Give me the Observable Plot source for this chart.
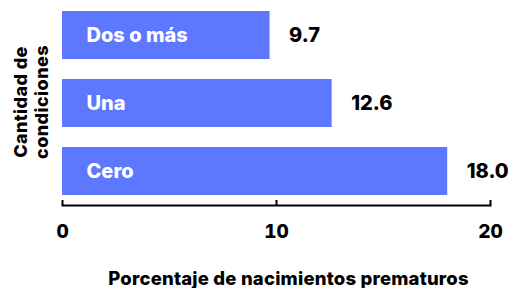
<!DOCTYPE html>
<html>
<head>
<meta charset="utf-8">
<script src="https://cdn.jsdelivr.net/npm/d3@7"></script>
<script src="https://cdn.jsdelivr.net/npm/@observablehq/plot@0.6"></script>
<style>
  html, body { margin: 0; padding: 0; background: #fff; }
  svg { display: block; font-family: Inter, "Noto Sans", sans-serif; }
</style>
</head>
<body>
<div id="chart"></div>
<script>
const categories = ["Dos o más", "Una", "Cero"];
const values = [9.7, 12.6, 18.0];
const xTicks = [0, 10, 20];
const xLabel = "Porcentaje de nacimientos prematuros";
const yLabel = "Cantidad de\ncondiciones";

const data = categories.map((c, i) => ({category: c, value: values[i]}));
const barColor = "#5e77ff";

const chart = Plot.plot({
  width: 513,
  height: 288,
  marginLeft: 62,
  marginRight: 23,
  marginTop: 10,
  marginBottom: 83,
  style: {fontFamily: "Inter, 'Noto Sans', sans-serif", background: "#fff"},
  x: {domain: [0, 20]},
  y: {domain: categories, paddingInner: 0.29, paddingOuter: 0, insetBottom: 9, axis: null},
  marks: [
    Plot.barX(data, {x: "value", y: "category", fill: barColor}),
    Plot.text(data, {x: 0, y: "category", text: "category", textAnchor: "start", dx: 24, fill: "#fff", fontSize: 20, fontWeight: 800}),
    Plot.text(data, {x: "value", y: "category", text: d => d.value.toFixed(1), textAnchor: "start", dx: 19, fill: "#000", fontSize: 20, fontWeight: 800}),
    Plot.frame({anchor: "bottom", stroke: "#000", strokeWidth: 2}),
    Plot.axisX({ticks: xTicks, tickSize: -5, strokeWidth: 2, stroke: "#000", text: null, label: null}),
    Plot.axisX({ticks: xTicks, tickSize: 0, tickPadding: 19, fontSize: 19, fontWeight: 800, fill: "#000", label: null, tickFormat: d3.format("d")}),
    Plot.text([xLabel], {frameAnchor: "bottom", text: d => d, dx: 12, dy: 74, fontSize: 18.5, fontWeight: 800, fill: "#000", lineAnchor: "middle"}),
    Plot.text([yLabel], {frameAnchor: "left", textAnchor: "middle", text: d => d, rotate: -90, dx: -32, dy: -6, fontSize: 18, fontWeight: 800, fill: "#000", lineHeight: 1.17})
  ]
});
chart.querySelectorAll("text").forEach(t => {
  if (t.textContent.startsWith("Cantidad")) t.setAttribute("letter-spacing", "0.4");
  if (t.textContent.startsWith("Porcentaje")) t.setAttribute("letter-spacing", "0.2");
});
document.getElementById("chart").appendChild(chart);
</script>
</body>
</html>
